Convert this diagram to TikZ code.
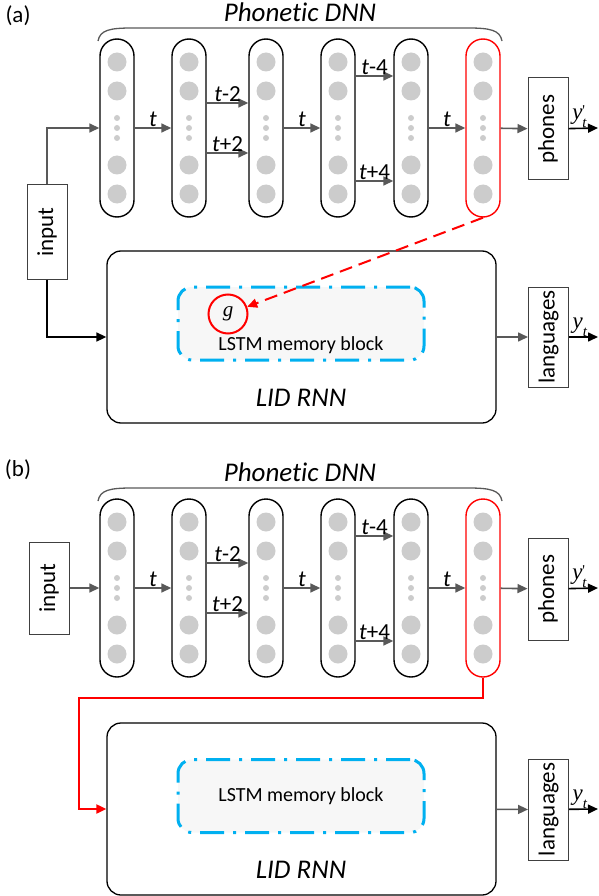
\documentclass[tikz,border=0pt]{standalone}
\usepackage{fontspec}
\setmainfont{Carlito}[Ligatures=NoCommon]
\newfontfamily\lserif{Liberation Serif}
\usetikzlibrary{arrows.meta}
\usetikzlibrary{positioning}
\definecolor{linkgrey}{HTML}{595959}
\definecolor{unitgrey}{HTML}{CCCCCC}
\definecolor{boxgrey}{HTML}{404040}
\definecolor{lstmblue}{HTML}{00B0F0}
\definecolor{lstmfill}{HTML}{F7F7F7}

\begin{document}
\begin{tikzpicture}
    [x=1pt,y=-1pt,font=\fontsize{23}{27}\selectfont,
    layer/.style={rectangle,rounded corners=17pt,draw=black,line width=1.4pt,
      inner sep=0pt,minimum width=34pt,minimum height=178pt},
    outlayer/.style={layer,draw=red},
    io/.style={rectangle,draw=boxgrey,line width=1pt,inner sep=0pt,
      minimum width=40pt},
    rnn/.style={rectangle,rounded corners=14pt,draw=black,line width=1.3pt,
      minimum width=389pt,minimum height=172pt},
    memory/.style={rectangle,rounded corners=14pt,draw=lstmblue,fill=lstmfill,
      line width=3pt,dash pattern=on 24pt off 9pt on 3pt off 9pt,
      minimum width=246pt,minimum height=73pt,font=\fontsize{20}{24}\selectfont},
    gate/.style={circle,draw=red,line width=2pt,inner sep=0pt,minimum size=39pt,
      font=\fontsize{21}{24}\selectfont\lserif\itshape},
    title/.style={font=\fontsize{27}{31}\selectfont\itshape},
    link/.style={draw=linkgrey,line width=1.6pt,-{Triangle[length=10pt,width=9pt]}},
    feed/.style={draw=black,line width=1.6pt,-{Triangle[length=10pt,width=9pt]}},
    skip/.style={draw=red,line width=2pt,-{Triangle[length=10pt,width=9pt]}},
    hint/.style={skip,dash pattern=on 13pt off 7pt},
    tap/.style={above,inner sep=1pt},
    outtap/.style={pos=0.1,anchor=base west,yshift=9pt,inner sep=0pt,
      font=\fontsize{23}{25}\selectfont\lserif\itshape},
    brace/.style={draw=linkgrey,line width=1.3pt}]

    \useasboundingbox (0,0) rectangle (598,896);

    % (a) phonetic DNN feeding the gate
    \node (alabel) at (18,16) {(a)};
    \node[title] (atitle) at (300,12) {Phonetic DNN};
    \draw[brace] (98,41) .. controls (100,30) and (110,28) .. (132,28) -- (468,28)
      .. controls (490,28) and (500,30) .. (502,41);

    \node[layer]    (a1) at (117,128) {};
    \node[layer]    (a2) at (189,128) {};
    \node[layer]    (a3) at (266,128) {};
    \node[layer]    (a4) at (338,128) {};
    \node[layer]    (a5) at (411,128) {};
    \node[outlayer] (a6) at (483,128) {};

    \node[io,minimum height=94pt]  (ain)   at (47,232)    {\rotatebox{90}{input}};
    \node[io,minimum height=102pt] (aph)   at (548,129)   {\rotatebox{90}{phones}};
    \node[rnn]                     (alid)  at (301.5,337) {};
    \node[memory]                  (amem)  at (301,323.5) {};
    \node[font=\fontsize{20}{24}\selectfont] (amemtxt) at (301,345) {LSTM memory block};
    \node[gate]                    (ag)    at (228,314)   {g};
    \node[title]                   (alidtxt) at (301,398) {LID RNN};
    \node[io,minimum height=100pt] (alang) at (548.5,337) {\rotatebox{90}{languages}};
    \coordinate (aout1) at (598,128);
    \coordinate (aout2) at (598,337);

    \draw[link] (ain.north) |- (a1.west);
    \draw[feed] (ain.south) |- (alid.west);
    \draw[link] (a1) -- node[tap] {\textit{t}} (a2);
    \draw[link] ([yshift=25pt]a2.east) -- node[tap] {\textit{t}-2} ([yshift=25pt]a3.west);
    \draw[link] ([yshift=-25pt]a2.east) -- node[tap] {\textit{t}+2} ([yshift=-25pt]a3.west);
    \draw[link] (a3) -- node[tap] {\textit{t}} (a4);
    \draw[link] ([yshift=52pt]a4.east) -- node[tap] {\textit{t}-4} ([yshift=52pt]a5.west);
    \draw[link] ([yshift=-53pt]a4.east) -- node[tap] {\textit{t}+4} ([yshift=-53pt]a5.west);
    \draw[link] (a5) -- node[tap] {\textit{t}} (a6);
    \draw[link] (a6) -- (aph);
    \draw[feed] (aph) -- node[outtap] {y\rlap{\raisebox{4pt}{\fontsize{15}{15}\selectfont\upshape'}}\raisebox{-8pt}{\fontsize{15}{15}\selectfont t}} (aout1);
    \draw[hint] (a6.south) -- (ag);
    \draw[link] (alid) -- (alang);
    \draw[feed] (alang) -- node[outtap] {y\raisebox{-8pt}{\fontsize{15}{15}\selectfont t}} (aout2);

    % (b) phonetic DNN output stacked on the input
    \node (blabel) at (18,470) {(b)};
    \node[title] (btitle) at (300,472) {Phonetic DNN};
    \draw[brace] (98,501) .. controls (100,490) and (110,488) .. (132,488) -- (468,488)
      .. controls (490,488) and (500,490) .. (502,501);

    \node[layer]    (b1) at (117,588) {};
    \node[layer]    (b2) at (189,588) {};
    \node[layer]    (b3) at (266,588) {};
    \node[layer]    (b4) at (338,588) {};
    \node[layer]    (b5) at (411,588) {};
    \node[outlayer] (b6) at (483,588) {};

    \node[io,minimum height=92pt]  (bin)   at (49,588)    {\rotatebox{90}{input}};
    \node[io,minimum height=102pt] (bph)   at (548,589)   {\rotatebox{90}{phones}};
    \node[rnn]                     (blid)  at (301.5,809) {};
    \node[memory]                  (bmem)  at (301,796)   {LSTM memory block};
    \node[title]                   (blidtxt) at (301,870) {LID RNN};
    \node[io,minimum height=101pt] (blang) at (548.5,809.5) {\rotatebox{90}{languages}};
    \coordinate (bturn) at (79,698);
    \coordinate (bout1) at (598,588);
    \coordinate (bout2) at (598,809);

    \draw[link] (bin) -- (b1);
    \draw[link] (b1) -- node[tap] {\textit{t}} (b2);
    \draw[link] ([yshift=25pt]b2.east) -- node[tap] {\textit{t}-2} ([yshift=25pt]b3.west);
    \draw[link] ([yshift=-25pt]b2.east) -- node[tap] {\textit{t}+2} ([yshift=-25pt]b3.west);
    \draw[link] (b3) -- node[tap] {\textit{t}} (b4);
    \draw[link] ([yshift=52pt]b4.east) -- node[tap] {\textit{t}-4} ([yshift=52pt]b5.west);
    \draw[link] ([yshift=-53pt]b4.east) -- node[tap] {\textit{t}+4} ([yshift=-53pt]b5.west);
    \draw[link] (b5) -- node[tap] {\textit{t}} (b6);
    \draw[link] (b6) -- (bph);
    \draw[feed] (bph) -- node[outtap] {y\rlap{\raisebox{4pt}{\fontsize{15}{15}\selectfont\upshape'}}\raisebox{-8pt}{\fontsize{15}{15}\selectfont t}} (bout1);
    \draw[skip] (b6.south) |- (bturn) |- (blid.west);
    \draw[link] (blid) -- (blang);
    \draw[feed] (blang) -- node[outtap] {y\raisebox{-8pt}{\fontsize{15}{15}\selectfont t}} (bout2);

    % units inside every layer
    \foreach \c in {a1,a2,a3,a4,a5,a6,b1,b2,b3,b4,b5,b6} {
      \foreach \dy in {-66,-37,37,66}
        \fill[unitgrey] ([yshift=\dy pt]\c.center) circle (9.5pt);
      \foreach \dy in {-10,0,10}
        \fill[unitgrey] ([yshift=\dy pt]\c.center) circle (3pt);
    }

  \end{tikzpicture}
\end{document}
